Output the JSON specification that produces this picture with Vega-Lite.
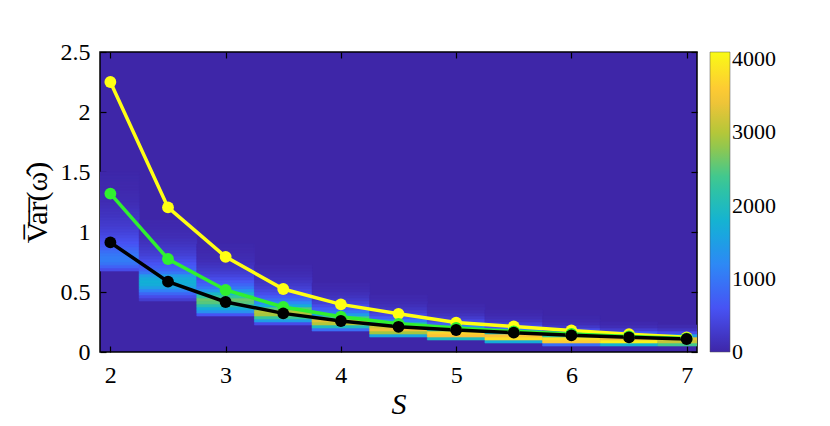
{
  "$schema": "https://vega.github.io/schema/vega-lite/v6.json",
  "autosize": {"type": "none"},
  "width": 597,
  "height": 300,
  "padding": {"left": 100, "top": 52, "right": 133, "bottom": 74},
  "background": "white",
  "config": {
    "view": {"fill": "#3E26A8", "stroke": "#000", "strokeWidth": 1.5},
    "font": "Liberation Serif",
    "axis": {
      "domain": false, "grid": false, "tickSize": -6, "tickColor": "#000", "tickWidth": 1.2,
      "labelFont": "Liberation Serif", "labelFontSize": 24, "labelColor": "#000",
      "titleFont": "Liberation Serif", "titleColor": "#000", "titleFontWeight": "normal"
    },
    "axisX": {"labelPadding": 17, "titleFontSize": 30, "titleFontStyle": "italic", "titlePadding": 2},
    "axisY": {"labelPadding": 16, "titleFontSize": 30, "titlePadding": 8},
    "legend": {
      "labelFont": "Liberation Serif", "labelFontSize": 22, "labelColor": "#000",
      "gradientLength": 300, "gradientThickness": 20, "labelOffset": 11, "padding": 0,
      "gradientStrokeColor": "#555", "gradientStrokeWidth": 0.5
    }
  },
  "datasets": {
    "hist": [
      {"s0":1.75,"s1":2.25,"v0":0.675,"v1":0.7,"n":500},
      {"s0":1.75,"s1":2.25,"v0":0.7,"v1":0.725,"n":750},
      {"s0":1.75,"s1":2.25,"v0":0.725,"v1":0.75,"n":950},
      {"s0":1.75,"s1":2.25,"v0":0.75,"v1":0.775,"n":1050},
      {"s0":1.75,"s1":2.25,"v0":0.775,"v1":0.8,"n":1050},
      {"s0":1.75,"s1":2.25,"v0":0.8,"v1":0.825,"n":1000},
      {"s0":1.75,"s1":2.25,"v0":0.825,"v1":0.85,"n":900},
      {"s0":1.75,"s1":2.25,"v0":0.85,"v1":0.875,"n":750},
      {"s0":1.75,"s1":2.25,"v0":0.875,"v1":0.9,"n":650},
      {"s0":1.75,"s1":2.25,"v0":0.9,"v1":0.925,"n":580},
      {"s0":1.75,"s1":2.25,"v0":0.925,"v1":0.95,"n":520},
      {"s0":1.75,"s1":2.25,"v0":0.95,"v1":0.975,"n":460},
      {"s0":1.75,"s1":2.25,"v0":0.975,"v1":1.0,"n":410},
      {"s0":1.75,"s1":2.25,"v0":1.0,"v1":1.025,"n":360},
      {"s0":1.75,"s1":2.25,"v0":1.025,"v1":1.05,"n":320},
      {"s0":1.75,"s1":2.25,"v0":1.05,"v1":1.075,"n":280},
      {"s0":1.75,"s1":2.25,"v0":1.075,"v1":1.1,"n":250},
      {"s0":1.75,"s1":2.25,"v0":1.1,"v1":1.125,"n":220},
      {"s0":1.75,"s1":2.25,"v0":1.125,"v1":1.15,"n":190},
      {"s0":1.75,"s1":2.25,"v0":1.15,"v1":1.175,"n":170},
      {"s0":1.75,"s1":2.25,"v0":1.175,"v1":1.2,"n":150},
      {"s0":1.75,"s1":2.25,"v0":1.2,"v1":1.225,"n":120},
      {"s0":1.75,"s1":2.25,"v0":1.225,"v1":1.25,"n":100},
      {"s0":1.75,"s1":2.25,"v0":1.25,"v1":1.275,"n":85},
      {"s0":1.75,"s1":2.25,"v0":1.275,"v1":1.3,"n":70},
      {"s0":1.75,"s1":2.25,"v0":1.3,"v1":1.325,"n":60},
      {"s0":1.75,"s1":2.25,"v0":1.325,"v1":1.35,"n":50},
      {"s0":1.75,"s1":2.25,"v0":1.35,"v1":1.375,"n":40},
      {"s0":1.75,"s1":2.25,"v0":1.375,"v1":1.4,"n":35},
      {"s0":1.75,"s1":2.25,"v0":1.4,"v1":1.425,"n":30},
      {"s0":1.75,"s1":2.25,"v0":1.425,"v1":1.45,"n":25},
      {"s0":1.75,"s1":2.25,"v0":1.45,"v1":1.475,"n":20},
      {"s0":1.75,"s1":2.25,"v0":1.475,"v1":1.5,"n":15},

      {"s0":2.25,"s1":2.75,"v0":0.425,"v1":0.45,"n":300},
      {"s0":2.25,"s1":2.75,"v0":0.45,"v1":0.475,"n":500},
      {"s0":2.25,"s1":2.75,"v0":0.475,"v1":0.5,"n":800},
      {"s0":2.25,"s1":2.75,"v0":0.5,"v1":0.525,"n":1100},
      {"s0":2.25,"s1":2.75,"v0":0.525,"v1":0.55,"n":1500},
      {"s0":2.25,"s1":2.75,"v0":0.55,"v1":0.575,"n":1700},
      {"s0":2.25,"s1":2.75,"v0":0.575,"v1":0.6,"n":1750},
      {"s0":2.25,"s1":2.75,"v0":0.6,"v1":0.625,"n":1650},
      {"s0":2.25,"s1":2.75,"v0":0.625,"v1":0.65,"n":1450},
      {"s0":2.25,"s1":2.75,"v0":0.65,"v1":0.675,"n":1000},
      {"s0":2.25,"s1":2.75,"v0":0.675,"v1":0.7,"n":800},
      {"s0":2.25,"s1":2.75,"v0":0.7,"v1":0.725,"n":700},
      {"s0":2.25,"s1":2.75,"v0":0.725,"v1":0.75,"n":600},
      {"s0":2.25,"s1":2.75,"v0":0.75,"v1":0.775,"n":500},
      {"s0":2.25,"s1":2.75,"v0":0.775,"v1":0.8,"n":420},
      {"s0":2.25,"s1":2.75,"v0":0.8,"v1":0.825,"n":350},
      {"s0":2.25,"s1":2.75,"v0":0.825,"v1":0.85,"n":300},
      {"s0":2.25,"s1":2.75,"v0":0.85,"v1":0.875,"n":250},
      {"s0":2.25,"s1":2.75,"v0":0.875,"v1":0.9,"n":210},
      {"s0":2.25,"s1":2.75,"v0":0.9,"v1":0.925,"n":170},
      {"s0":2.25,"s1":2.75,"v0":0.925,"v1":0.95,"n":140},
      {"s0":2.25,"s1":2.75,"v0":0.95,"v1":0.975,"n":110},
      {"s0":2.25,"s1":2.75,"v0":0.975,"v1":1.0,"n":90},
      {"s0":2.25,"s1":2.75,"v0":1.0,"v1":1.025,"n":70},
      {"s0":2.25,"s1":2.75,"v0":1.025,"v1":1.05,"n":55},
      {"s0":2.25,"s1":2.75,"v0":1.05,"v1":1.075,"n":45},
      {"s0":2.25,"s1":2.75,"v0":1.075,"v1":1.1,"n":35},

      {"s0":2.75,"s1":3.25,"v0":0.3,"v1":0.325,"n":600},
      {"s0":2.75,"s1":3.25,"v0":0.325,"v1":0.35,"n":1300},
      {"s0":2.75,"s1":3.25,"v0":0.35,"v1":0.375,"n":1700},
      {"s0":2.75,"s1":3.25,"v0":0.375,"v1":0.4,"n":2100},
      {"s0":2.75,"s1":3.25,"v0":0.4,"v1":0.425,"n":2500},
      {"s0":2.75,"s1":3.25,"v0":0.425,"v1":0.45,"n":2600},
      {"s0":2.75,"s1":3.25,"v0":0.45,"v1":0.475,"n":2300},
      {"s0":2.75,"s1":3.25,"v0":0.475,"v1":0.5,"n":1900},
      {"s0":2.75,"s1":3.25,"v0":0.5,"v1":0.525,"n":1400},
      {"s0":2.75,"s1":3.25,"v0":0.525,"v1":0.55,"n":1000},
      {"s0":2.75,"s1":3.25,"v0":0.55,"v1":0.575,"n":800},
      {"s0":2.75,"s1":3.25,"v0":0.575,"v1":0.6,"n":650},
      {"s0":2.75,"s1":3.25,"v0":0.6,"v1":0.625,"n":500},
      {"s0":2.75,"s1":3.25,"v0":0.625,"v1":0.65,"n":400},
      {"s0":2.75,"s1":3.25,"v0":0.65,"v1":0.675,"n":320},
      {"s0":2.75,"s1":3.25,"v0":0.675,"v1":0.7,"n":250},
      {"s0":2.75,"s1":3.25,"v0":0.7,"v1":0.725,"n":200},
      {"s0":2.75,"s1":3.25,"v0":0.725,"v1":0.75,"n":150},
      {"s0":2.75,"s1":3.25,"v0":0.75,"v1":0.775,"n":110},
      {"s0":2.75,"s1":3.25,"v0":0.775,"v1":0.8,"n":80},
      {"s0":2.75,"s1":3.25,"v0":0.8,"v1":0.825,"n":60},
      {"s0":2.75,"s1":3.25,"v0":0.825,"v1":0.85,"n":45},
      {"s0":2.75,"s1":3.25,"v0":0.85,"v1":0.875,"n":35},
      {"s0":2.75,"s1":3.25,"v0":0.875,"v1":0.9,"n":25},

      {"s0":3.25,"s1":3.75,"v0":0.225,"v1":0.25,"n":500},
      {"s0":3.25,"s1":3.75,"v0":0.25,"v1":0.275,"n":1500},
      {"s0":3.25,"s1":3.75,"v0":0.275,"v1":0.3,"n":2300},
      {"s0":3.25,"s1":3.75,"v0":0.3,"v1":0.325,"n":2900},
      {"s0":3.25,"s1":3.75,"v0":0.325,"v1":0.35,"n":3000},
      {"s0":3.25,"s1":3.75,"v0":0.35,"v1":0.375,"n":2500},
      {"s0":3.25,"s1":3.75,"v0":0.375,"v1":0.4,"n":1700},
      {"s0":3.25,"s1":3.75,"v0":0.4,"v1":0.425,"n":1200},
      {"s0":3.25,"s1":3.75,"v0":0.425,"v1":0.45,"n":900},
      {"s0":3.25,"s1":3.75,"v0":0.45,"v1":0.475,"n":700},
      {"s0":3.25,"s1":3.75,"v0":0.475,"v1":0.5,"n":520},
      {"s0":3.25,"s1":3.75,"v0":0.5,"v1":0.525,"n":420},
      {"s0":3.25,"s1":3.75,"v0":0.525,"v1":0.55,"n":330},
      {"s0":3.25,"s1":3.75,"v0":0.55,"v1":0.575,"n":260},
      {"s0":3.25,"s1":3.75,"v0":0.575,"v1":0.6,"n":200},
      {"s0":3.25,"s1":3.75,"v0":0.6,"v1":0.625,"n":150},
      {"s0":3.25,"s1":3.75,"v0":0.625,"v1":0.65,"n":110},
      {"s0":3.25,"s1":3.75,"v0":0.65,"v1":0.675,"n":80},
      {"s0":3.25,"s1":3.75,"v0":0.675,"v1":0.7,"n":55},
      {"s0":3.25,"s1":3.75,"v0":0.7,"v1":0.725,"n":40},

      {"s0":3.75,"s1":4.25,"v0":0.175,"v1":0.2,"n":900},
      {"s0":3.75,"s1":4.25,"v0":0.2,"v1":0.225,"n":2000},
      {"s0":3.75,"s1":4.25,"v0":0.225,"v1":0.25,"n":3000},
      {"s0":3.75,"s1":4.25,"v0":0.25,"v1":0.275,"n":3300},
      {"s0":3.75,"s1":4.25,"v0":0.275,"v1":0.3,"n":2400},
      {"s0":3.75,"s1":4.25,"v0":0.3,"v1":0.325,"n":1500},
      {"s0":3.75,"s1":4.25,"v0":0.325,"v1":0.35,"n":1000},
      {"s0":3.75,"s1":4.25,"v0":0.35,"v1":0.375,"n":700},
      {"s0":3.75,"s1":4.25,"v0":0.375,"v1":0.4,"n":500},
      {"s0":3.75,"s1":4.25,"v0":0.4,"v1":0.425,"n":350},
      {"s0":3.75,"s1":4.25,"v0":0.425,"v1":0.45,"n":250},
      {"s0":3.75,"s1":4.25,"v0":0.45,"v1":0.475,"n":180},
      {"s0":3.75,"s1":4.25,"v0":0.475,"v1":0.5,"n":120},
      {"s0":3.75,"s1":4.25,"v0":0.5,"v1":0.525,"n":80},
      {"s0":3.75,"s1":4.25,"v0":0.525,"v1":0.55,"n":55},
      {"s0":3.75,"s1":4.25,"v0":0.55,"v1":0.575,"n":35},

      {"s0":4.25,"s1":4.75,"v0":0.125,"v1":0.15,"n":1600},
      {"s0":4.25,"s1":4.75,"v0":0.15,"v1":0.175,"n":2900},
      {"s0":4.25,"s1":4.75,"v0":0.175,"v1":0.2,"n":3400},
      {"s0":4.25,"s1":4.75,"v0":0.2,"v1":0.225,"n":3200},
      {"s0":4.25,"s1":4.75,"v0":0.225,"v1":0.25,"n":2000},
      {"s0":4.25,"s1":4.75,"v0":0.25,"v1":0.275,"n":1100},
      {"s0":4.25,"s1":4.75,"v0":0.275,"v1":0.3,"n":700},
      {"s0":4.25,"s1":4.75,"v0":0.3,"v1":0.325,"n":450},
      {"s0":4.25,"s1":4.75,"v0":0.325,"v1":0.35,"n":300},
      {"s0":4.25,"s1":4.75,"v0":0.35,"v1":0.375,"n":200},
      {"s0":4.25,"s1":4.75,"v0":0.375,"v1":0.4,"n":130},
      {"s0":4.25,"s1":4.75,"v0":0.4,"v1":0.425,"n":85},
      {"s0":4.25,"s1":4.75,"v0":0.425,"v1":0.45,"n":55},
      {"s0":4.25,"s1":4.75,"v0":0.45,"v1":0.475,"n":35},

      {"s0":4.75,"s1":5.25,"v0":0.1,"v1":0.125,"n":2000},
      {"s0":4.75,"s1":5.25,"v0":0.125,"v1":0.15,"n":3500},
      {"s0":4.75,"s1":5.25,"v0":0.15,"v1":0.175,"n":3700},
      {"s0":4.75,"s1":5.25,"v0":0.175,"v1":0.2,"n":2300},
      {"s0":4.75,"s1":5.25,"v0":0.2,"v1":0.225,"n":1300},
      {"s0":4.75,"s1":5.25,"v0":0.225,"v1":0.25,"n":750},
      {"s0":4.75,"s1":5.25,"v0":0.25,"v1":0.275,"n":450},
      {"s0":4.75,"s1":5.25,"v0":0.275,"v1":0.3,"n":280},
      {"s0":4.75,"s1":5.25,"v0":0.3,"v1":0.325,"n":170},
      {"s0":4.75,"s1":5.25,"v0":0.325,"v1":0.35,"n":100},
      {"s0":4.75,"s1":5.25,"v0":0.35,"v1":0.375,"n":60},
      {"s0":4.75,"s1":5.25,"v0":0.375,"v1":0.4,"n":35},

      {"s0":5.25,"s1":5.75,"v0":0.075,"v1":0.1,"n":1700},
      {"s0":5.25,"s1":5.75,"v0":0.1,"v1":0.125,"n":3800},
      {"s0":5.25,"s1":5.75,"v0":0.125,"v1":0.15,"n":3500},
      {"s0":5.25,"s1":5.75,"v0":0.15,"v1":0.175,"n":2000},
      {"s0":5.25,"s1":5.75,"v0":0.175,"v1":0.2,"n":1100},
      {"s0":5.25,"s1":5.75,"v0":0.2,"v1":0.225,"n":600},
      {"s0":5.25,"s1":5.75,"v0":0.225,"v1":0.25,"n":330},
      {"s0":5.25,"s1":5.75,"v0":0.25,"v1":0.275,"n":180},
      {"s0":5.25,"s1":5.75,"v0":0.275,"v1":0.3,"n":100},
      {"s0":5.25,"s1":5.75,"v0":0.3,"v1":0.325,"n":55},
      {"s0":5.25,"s1":5.75,"v0":0.325,"v1":0.35,"n":30},

      {"s0":5.75,"s1":6.25,"v0":0.05,"v1":0.075,"n":900},
      {"s0":5.75,"s1":6.25,"v0":0.075,"v1":0.1,"n":3600},
      {"s0":5.75,"s1":6.25,"v0":0.1,"v1":0.125,"n":3800},
      {"s0":5.75,"s1":6.25,"v0":0.125,"v1":0.15,"n":2300},
      {"s0":5.75,"s1":6.25,"v0":0.15,"v1":0.175,"n":1100},
      {"s0":5.75,"s1":6.25,"v0":0.175,"v1":0.2,"n":500},
      {"s0":5.75,"s1":6.25,"v0":0.2,"v1":0.225,"n":240},
      {"s0":5.75,"s1":6.25,"v0":0.225,"v1":0.25,"n":110},
      {"s0":5.75,"s1":6.25,"v0":0.25,"v1":0.275,"n":50},
      {"s0":5.75,"s1":6.25,"v0":0.275,"v1":0.3,"n":25},

      {"s0":6.25,"s1":6.75,"v0":0.05,"v1":0.075,"n":1800},
      {"s0":6.25,"s1":6.75,"v0":0.075,"v1":0.1,"n":4000},
      {"s0":6.25,"s1":6.75,"v0":0.1,"v1":0.125,"n":3400},
      {"s0":6.25,"s1":6.75,"v0":0.125,"v1":0.15,"n":1700},
      {"s0":6.25,"s1":6.75,"v0":0.15,"v1":0.175,"n":700},
      {"s0":6.25,"s1":6.75,"v0":0.175,"v1":0.2,"n":280},
      {"s0":6.25,"s1":6.75,"v0":0.2,"v1":0.225,"n":110},
      {"s0":6.25,"s1":6.75,"v0":0.225,"v1":0.25,"n":45},

      {"s0":6.75,"s1":7.25,"v0":0.05,"v1":0.075,"n":2400},
      {"s0":6.75,"s1":7.25,"v0":0.075,"v1":0.1,"n":3100},
      {"s0":6.75,"s1":7.25,"v0":0.1,"v1":0.125,"n":3300},
      {"s0":6.75,"s1":7.25,"v0":0.125,"v1":0.15,"n":1500},
      {"s0":6.75,"s1":7.25,"v0":0.15,"v1":0.175,"n":500},
      {"s0":6.75,"s1":7.25,"v0":0.175,"v1":0.2,"n":180},
      {"s0":6.75,"s1":7.25,"v0":0.2,"v1":0.225,"n":60}
    ],
    "lines": [
      {"series":"yellow","S":2,"v":2.25},
      {"series":"yellow","S":2.5,"v":1.205},
      {"series":"yellow","S":3,"v":0.793},
      {"series":"yellow","S":3.5,"v":0.525},
      {"series":"yellow","S":4,"v":0.397},
      {"series":"yellow","S":4.5,"v":0.318},
      {"series":"yellow","S":5,"v":0.245},
      {"series":"yellow","S":5.5,"v":0.213},
      {"series":"yellow","S":6,"v":0.18},
      {"series":"yellow","S":6.5,"v":0.148},
      {"series":"yellow","S":7,"v":0.122},
      {"series":"green","S":2,"v":1.32},
      {"series":"green","S":2.5,"v":0.775},
      {"series":"green","S":3,"v":0.517},
      {"series":"green","S":3.5,"v":0.375},
      {"series":"green","S":4,"v":0.294},
      {"series":"green","S":4.5,"v":0.235},
      {"series":"green","S":5,"v":0.2},
      {"series":"green","S":5.5,"v":0.172},
      {"series":"green","S":6,"v":0.15},
      {"series":"green","S":6.5,"v":0.13},
      {"series":"green","S":7,"v":0.113},
      {"series":"black","S":2,"v":0.913},
      {"series":"black","S":2.5,"v":0.586},
      {"series":"black","S":3,"v":0.417},
      {"series":"black","S":3.5,"v":0.322},
      {"series":"black","S":4,"v":0.258},
      {"series":"black","S":4.5,"v":0.21},
      {"series":"black","S":5,"v":0.183},
      {"series":"black","S":5.5,"v":0.161},
      {"series":"black","S":6,"v":0.139},
      {"series":"black","S":6.5,"v":0.122},
      {"series":"black","S":7,"v":0.108}
    ]
  },
  "layer": [
    {
      "data": {"name": "hist"},
      "mark": {"type": "rect", "clip": true},
      "encoding": {
        "x": {"field": "s0", "type": "quantitative", "title": "S",
              "scale": {"domain": [1.91, 7.09], "nice": false, "zero": false},
              "axis": {"values": [2, 3, 4, 5, 6, 7], "format": "~g"}},
        "x2": {"field": "s1"},
        "y": {"field": "v0", "type": "quantitative", "title": "V\u0305a\u0305r\u0305(\u03c9\u0302)",
              "scale": {"domain": [0, 2.5], "nice": false, "zero": false},
              "axis": {"values": [0, 0.5, 1, 1.5, 2, 2.5], "format": "~g"}},
        "y2": {"field": "v1"},
        "color": {"field": "n", "type": "quantitative",
                  "scale": {"domain": [-1, 585.7, 1171.4, 1757.1, 2342.9, 2928.6, 3514.3, 4100],
                            "range": ["#3E26A8", "#4852F4", "#2E87F7", "#12B1D6", "#37C897", "#ABC739", "#FEC338", "#F9FB15"],
                            "interpolate": "rgb"},
                  "legend": {"orient": "none", "legendX": 610, "legendY": 0, "direction": "vertical",
                             "title": null, "values": [0, 1000, 2000, 3000, 4000], "format": "d",
                             "labelBaseline": "middle"}},
        "stroke": {"field": "n", "type": "quantitative",
                   "scale": {"domain": [-1, 585.7, 1171.4, 1757.1, 2342.9, 2928.6, 3514.3, 4100],
                             "range": ["#3E26A8", "#4852F4", "#2E87F7", "#12B1D6", "#37C897", "#ABC739", "#FEC338", "#F9FB15"],
                             "interpolate": "rgb"},
                   "legend": null},
        "strokeWidth": {"value": 0.6}
      }
    },
    {
      "data": {"name": "lines"},
      "mark": {"type": "line", "strokeWidth": 3.5},
      "encoding": {
        "x": {"field": "S", "type": "quantitative", "title": "S", "axis": null},
        "y": {"field": "v", "type": "quantitative", "title": "V\u0305a\u0305r\u0305(\u03c9\u0302)", "axis": null},
        "stroke": {"field": "series", "type": "nominal",
                   "scale": {"domain": ["yellow", "green", "black"], "range": ["#FFFF14", "#30F030", "#000000"]},
                   "legend": null}
      }
    },
    {
      "data": {"name": "lines"},
      "mark": {"type": "point", "filled": true, "size": 140, "opacity": 1},
      "encoding": {
        "x": {"field": "S", "type": "quantitative", "title": null,
              "axis": {"orient": "top", "values": [2, 3, 4, 5, 6, 7], "labels": false, "title": null}},
        "y": {"field": "v", "type": "quantitative", "title": null,
              "axis": {"orient": "right", "values": [0, 0.5, 1, 1.5, 2, 2.5], "labels": false, "title": null}},
        "fill": {"field": "series", "type": "nominal",
                 "scale": {"domain": ["yellow", "green", "black"], "range": ["#FFFF14", "#30F030", "#000000"]},
                 "legend": null}
      }
    }
  ],
  "resolve": {"scale": {"stroke": "independent"}, "axis": {"x": "independent", "y": "independent"}}
}
